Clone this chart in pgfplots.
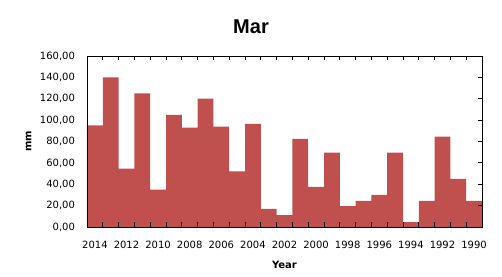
\documentclass[border=0pt]{standalone}
\usepackage{pgfplots}
\pgfplotsset{compat=1.18}
\usepackage{fontspec}
\setmainfont{DejaVu Sans}
\newfontfamily\titlefont{Liberation Sans}
\usetikzlibrary{calc}
\definecolor{barred}{HTML}{C0504D}
\pgfplotsset{common/.style={
  scale only axis,
  width=395pt, height=171pt,
  xmin=-0.5, xmax=24.5,
  ymin=0, ymax=160,
  axis line style={black, line width=0.8pt},
}}
\begin{document}
\begin{tikzpicture}
\begin{axis}[
  common,
  axis on top,
  ytick={0,20,...,160},
  xtick={0,2,...,24},
  xticklabels={2014,2012,2010,2008,2006,2004,2002,2000,1998,1996,1994,1992,1990},
  major tick length=0pt,
  xtick pos=bottom, ytick pos=left,
  /pgf/number format/.cd, fixed, fixed zerofill, precision=2, use comma, 1000 sep={}, assume math mode=true,
  /pgfplots/.cd,
  tick label style={font=\fontsize{10}{12}\selectfont},
  yticklabel style={anchor=east, xshift=-8.5pt},
  xticklabel style={anchor=north, yshift=-11pt},
  xlabel={Year},
  ylabel={mm},
  label style={font=\fontsize{10}{12}\selectfont\bfseries},
  xlabel style={at={(axis description cs:0.5,0)}, anchor=base, yshift=-42pt},
  ylabel style={at={(axis description cs:-0.1481,0.5)}, anchor=center},
  clip=false,
]
\addplot[ybar, bar width=1, fill=barred, draw=none, bar shift=0pt] coordinates {
(0,95) (1,140) (2,54.5) (3,125) (4,35) (5,105) (6,93) (7,120) (8,94) (9,52)
(10,96.5) (11,17) (12,11) (13,82.5) (14,37.5) (15,69.5) (16,19.5) (17,24.5) (18,30) (19,69.5)
(20,4.5) (21,24.5) (22,84.5) (23,45) (24,24.5)
};
\pgfplotsinvokeforeach{0.5,1.5,...,23.5}{
  \draw[black, line width=0.8pt] (axis cs:#1,0) -- ++(0pt,4.5pt);
  \draw[black, line width=0.8pt] (axis cs:#1,160) -- ++(0pt,-4.5pt);
}
\pgfplotsinvokeforeach{20,40,...,140}{
  \draw[black, line width=0.8pt] (axis cs:24.5,#1) -- ++(-4.5pt,0pt);
}
\end{axis}
\pgfresetboundingbox
\coordinate (SW) at ($(current axis.south west)+(-87pt,-50pt)$);
\coordinate (NE) at ($(current axis.north east)+(20pt,56pt)$);
\path (SW) rectangle (NE);
\node[anchor=base, font=\titlefont\fontsize{20}{24}\selectfont\bfseries] at ($(SW|-NE)+(251pt,-34pt)$) {Mar};
\end{tikzpicture}
\end{document}
